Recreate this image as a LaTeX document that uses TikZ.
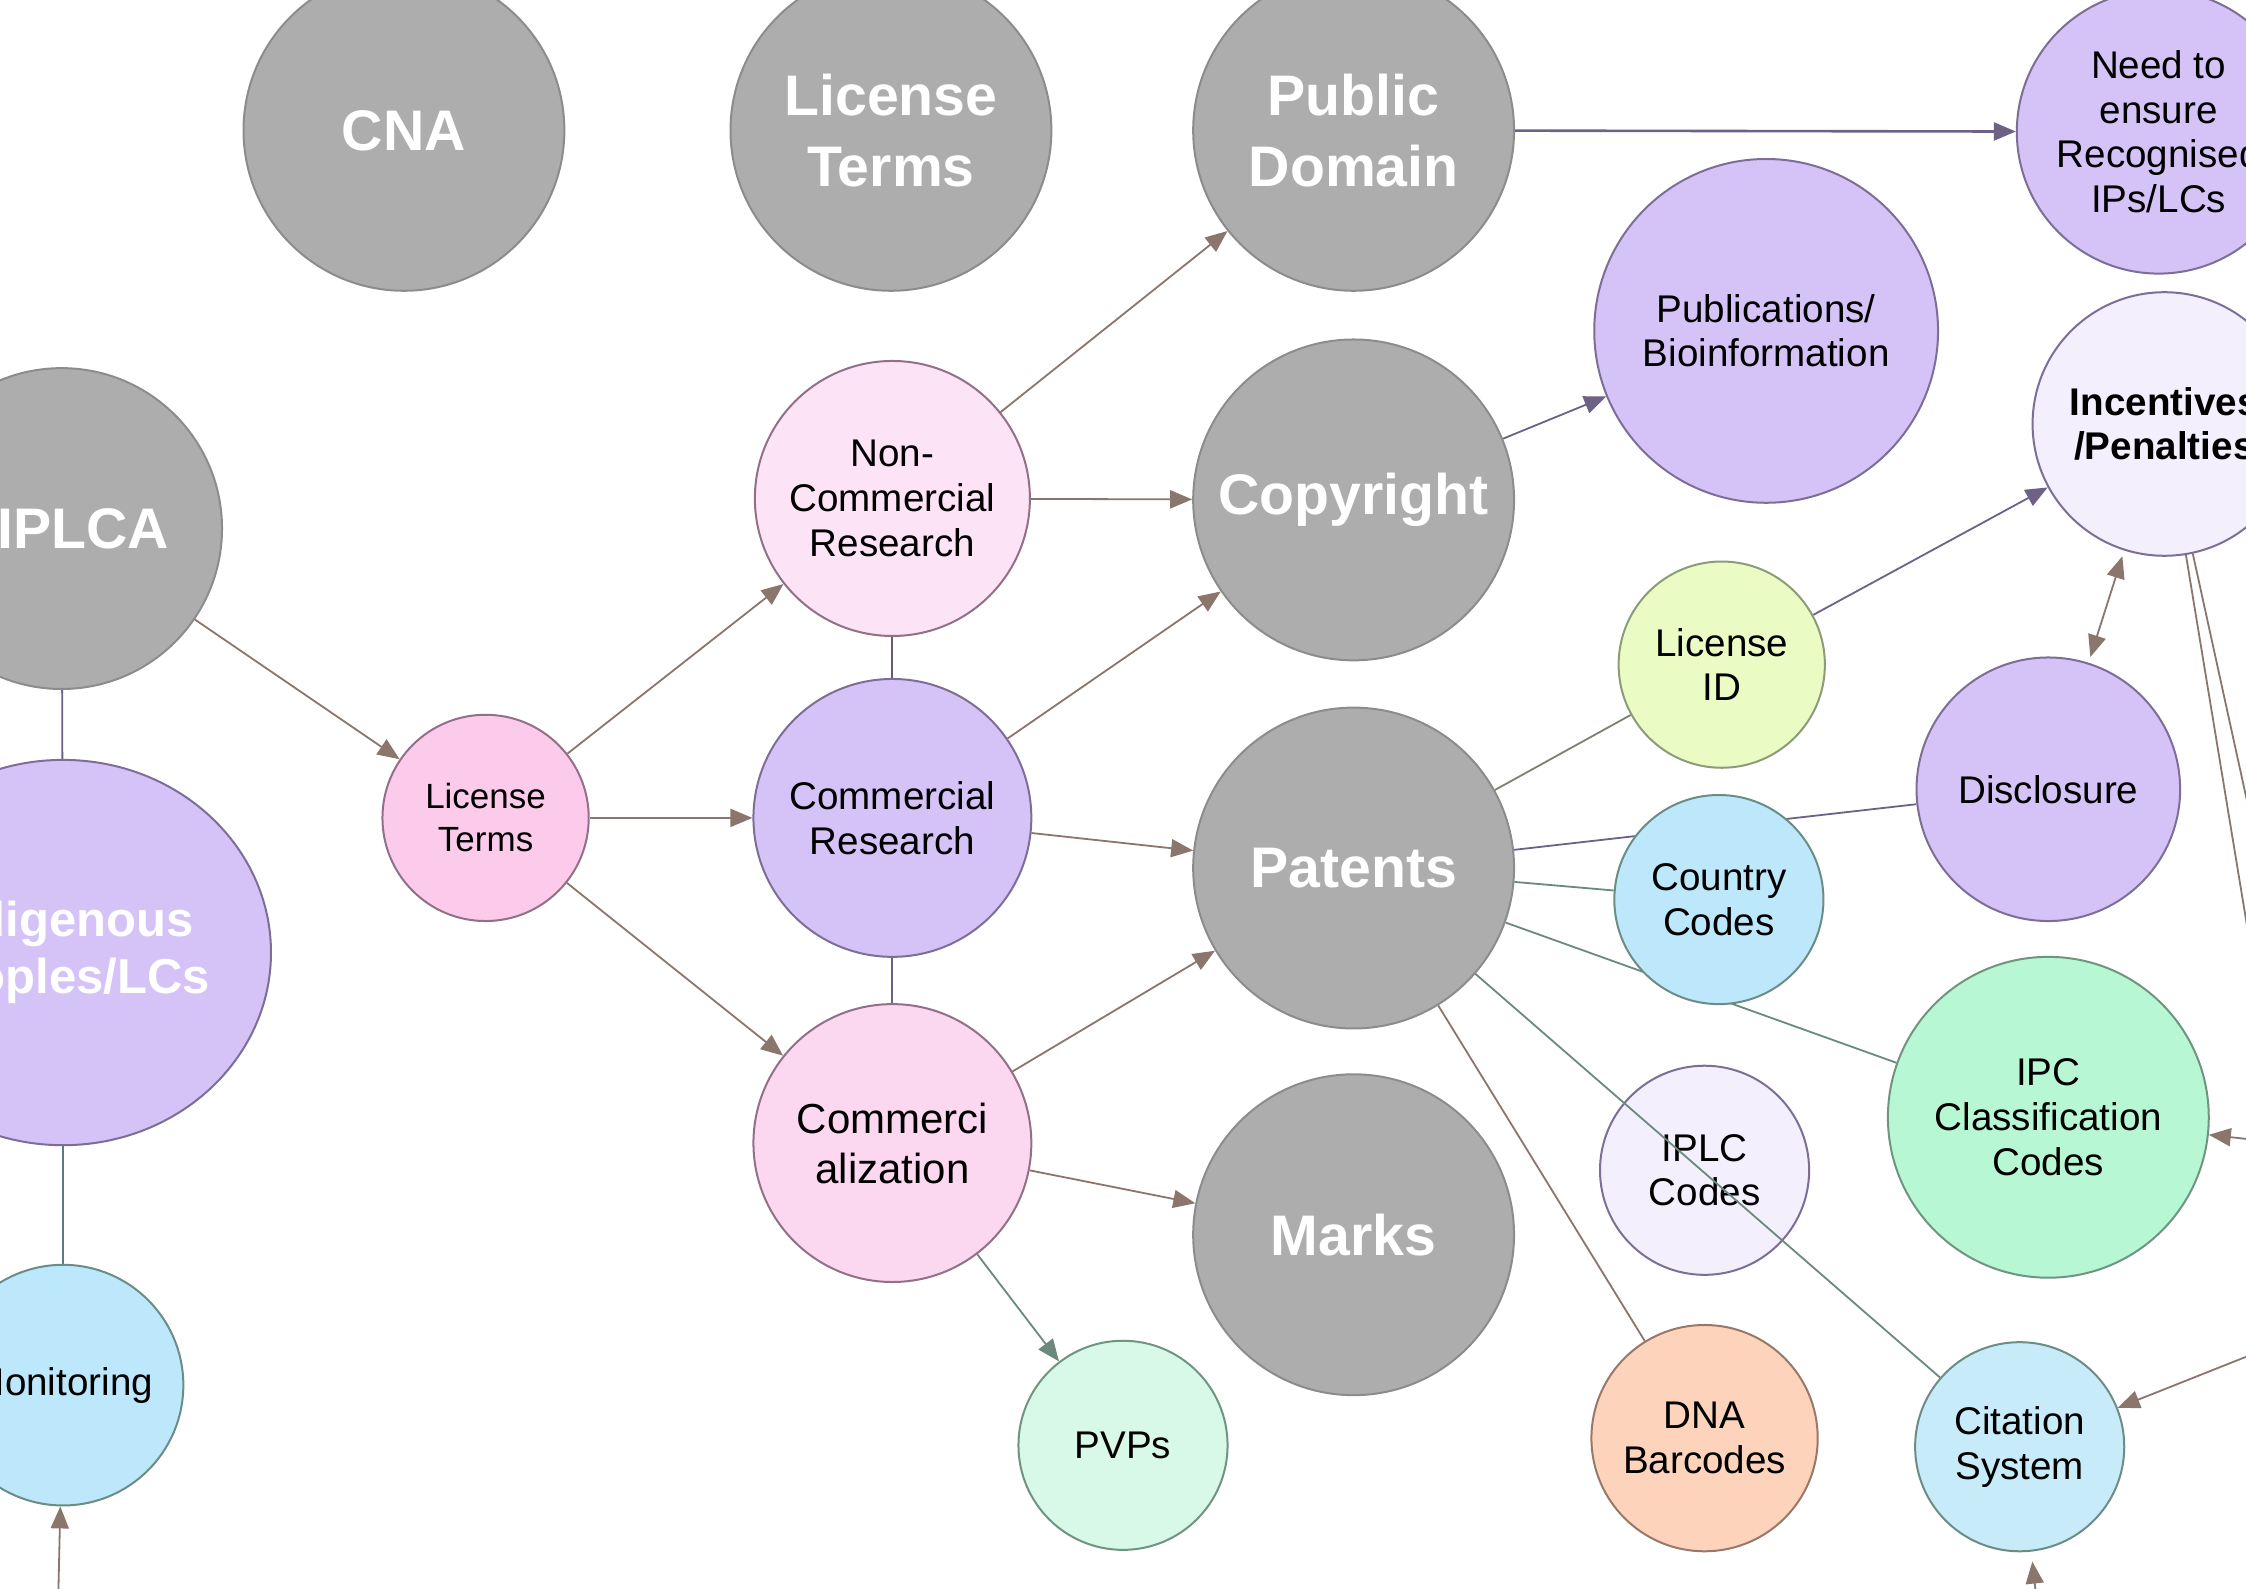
\documentclass[tikz,border=0pt]{standalone}
\usepackage{fontspec}
\setmainfont{Liberation Sans}
\usetikzlibrary{arrows.meta,shapes.geometric}
\pgfdeclarelayer{bg}
\pgfsetlayers{bg,main}

% fills and outlines of the bubbles
\definecolor{grayfill}{HTML}{ADADAD}
\definecolor{grayline}{HTML}{8C8C8C}
\definecolor{lavfill}{HTML}{D5C3F8}
\definecolor{lavline}{HTML}{7D6E96}
\definecolor{palelav}{HTML}{F3EFFD}
\definecolor{pinkfill}{HTML}{FCCBEC}
\definecolor{palepink}{HTML}{FCE3F5}
\definecolor{pinkmid}{HTML}{FCD7F0}
\definecolor{pinkline}{HTML}{927088}
\definecolor{bluefill}{HTML}{BDE8FB}
\definecolor{bluepale}{HTML}{C8EBFA}
\definecolor{blueline}{HTML}{6C8C86}
\definecolor{mintfill}{HTML}{B8F7D3}
\definecolor{palemint}{HTML}{D8F8E8}
\definecolor{mintline}{HTML}{6F9580}
\definecolor{limefill}{HTML}{EAFBC4}
\definecolor{limeline}{HTML}{8C9C78}
\definecolor{peachfill}{HTML}{FDD3BB}
\definecolor{peachline}{HTML}{987868}
% connector colours
\definecolor{brownedge}{HTML}{8A766C}
\definecolor{purpedge}{HTML}{6D6186}
\definecolor{plumedge}{HTML}{6E5A6A}
\definecolor{greenedge}{HTML}{6C8A7C}
\definecolor{oliveedge}{HTML}{7B8270}
\definecolor{slateedge}{HTML}{5F7A80}

\tikzset{
  bubble/.style={circle, draw, line width=1pt, inner sep=0pt, align=center,
    minimum size=#1*1.4324pt, text=black, font=\fontsize{19.3}{22.3}\selectfont},
  graytext/.style={text=white, font=\fontsize{28.6}{35.5}\selectfont\bfseries, align=center},
  graybubble/.style={bubble=#1, fill=grayfill, draw=grayline, graytext},
  lavbubble/.style={bubble=#1, fill=lavfill, draw=lavline},
  palelavbubble/.style={bubble=#1, fill=palelav, draw=lavline},
  bluebubble/.style={bubble=#1, fill=bluefill, draw=blueline},
  link/.style={line width=0.9pt},
  arr/.style={link, ->},
}

\begin{document}
\begin{tikzpicture}[x=0.7162pt, y=-0.7162pt, >={Triangle[length=11pt,width=9pt]}]
\useasboundingbox (0,0) rectangle (1568,1109);

% ---- bubbles ----
\node[graybubble=112] (cna) at (282,91) {CNA};
\node[graybubble=112] (ltop) at (622,91) {License\\Terms};
\node[graybubble=112] (pd) at (945,91) {Public\\Domain};
\node[lavbubble=99] (need) at (1507,92) {Need to\\ensure\\Recognised\\IPs/LCs};
\node[lavbubble=120] (pub) at (1233,231) {Publications/\\Bioinformation};
\node[palelavbubble=92, font=\fontsize{19.3}{22.3}\selectfont\bfseries] (inc) at (1511,296) {Incentives\\/Penalties};

\node[graybubble=112] (iplca) at (43,369) {};
\node[graytext] (iplcaText) at (58,369) {IPLCA};
\node[ellipse, draw=lavline, fill=lavfill, line width=1pt, inner sep=0pt, align=center,
  minimum width=288*0.7162pt, minimum height=269*0.7162pt,
  text=white, font=\fontsize{24.5}{28.6}\selectfont\bfseries] (indig) at (44,665) {Indigenous\\Peoples/LCs};
\node[bluebubble=84] (monit) at (44,967) {Monitoring};

\node[bubble=72, fill=pinkfill, draw=pinkline, font=\fontsize{17.5}{21.5}\selectfont] (lic) at (339,571) {License\\Terms};
\node[bubble=96, fill=palepink, draw=pinkline] (noncomm) at (623,348) {Non-\\Commercial\\Research};
\node[lavbubble=97] (comres) at (623,571) {Commercial\\Research};
\node[bubble=97, fill=pinkmid, draw=pinkline, font=\fontsize{21}{25}\selectfont] (commz) at (623,798) {Commerci\\alization};

\node[graybubble=112] (copyright) at (945,349) {Copyright};
\node[graybubble=112] (patents) at (945,606) {Patents};
\node[graybubble=112] (marks) at (945,862) {Marks};
\node[bubble=73, fill=palemint, draw=mintline] (pvps) at (784,1009) {PVPs};

\node[bubble=72, fill=limefill, draw=limeline] (licid) at (1202,464) {License\\ID};
\node[lavbubble=92] (disc) at (1430,551) {Disclosure};
\node[bluebubble=73] (country) at (1200,628) {Country\\Codes};
\node[bubble=112, fill=mintfill, draw=mintline] (ipc) at (1430,780) {IPC\\Classification\\Codes};
\node[palelavbubble=73] (iplc) at (1190,817) {IPLC\\Codes};
\node[bubble=79, fill=peachfill, draw=peachline] (dna) at (1190,1004) {DNA\\Barcodes};
\node[bubble=73, fill=bluepale, draw=blueline] (cite) at (1410,1010) {Citation\\System};

% ---- loose ends of connectors leaving the frame ----
\coordinate (monitSrc) at (39,1190);
\coordinate (incOutA) at (1623,976);
\coordinate (incOutB) at (1625,816);
\coordinate (ipcSrc) at (1668,806);
\coordinate (citeSrcR) at (1629,923);
\coordinate (citeSrcB) at (1432,1210);

% ---- connectors behind the bubbles ----
\begin{pgfonlayer}{bg}
  \fill[white] (0,0) rectangle (1568,1109);
  \draw[link, purpedge] (iplca) -- (indig);
  \draw[link, slateedge] (indig) -- (monit);
  \draw[arr, brownedge] (monitSrc) -- (monit);
  \draw[arr, brownedge] (iplca) -- (lic);
  \draw[arr, brownedge] (lic) -- (noncomm);
  \draw[arr, brownedge] (lic) -- (comres);
  \draw[arr, brownedge] (lic) -- (commz);
  \draw[link, plumedge] (noncomm) -- (comres);
  \draw[link, purpedge] (comres) -- (commz);
  \draw[arr, brownedge] (noncomm) -- (pd);
  \draw[arr, brownedge] (noncomm) -- (copyright);
  \draw[arr, brownedge] (comres) -- (copyright);
  \draw[arr, brownedge] (comres) -- (patents);
  \draw[arr, brownedge] (commz) -- (patents);
  \draw[arr, brownedge] (commz) -- (marks);
  \draw[arr, greenedge] (commz) -- (pvps);
  \draw[arr, purpedge, line width=1.3pt] (pd) -- (need);
  \draw[arr, purpedge] (copyright) -- (pub);
  \draw[arr, purpedge] (licid) -- (inc);
  \draw[link, oliveedge] (patents) -- (licid);
  \draw[link, purpedge] (patents) -- (disc);
  \draw[link, greenedge] (patents) -- (country);
  \draw[link, greenedge] (patents) -- (ipc);
  \draw[link, brownedge] (patents) -- (dna);
  \draw[link, <->, brownedge, shorten <=3pt, shorten >=3pt] (inc) -- (disc);
  \draw[link, brownedge] (inc) -- (incOutA);
  \draw[link, brownedge] (inc) -- (incOutB);
  \draw[arr, brownedge] (ipcSrc) -- (ipc);
  \draw[arr, brownedge] (citeSrcR) -- (cite);
  \draw[arr, brownedge, shorten >=5pt] (citeSrcB) -- (cite);
\end{pgfonlayer}

% ---- connector drawn across the IPLC bubble ----
\draw[link, greenedge] (patents) -- (cite);
\end{tikzpicture}
\end{document}
